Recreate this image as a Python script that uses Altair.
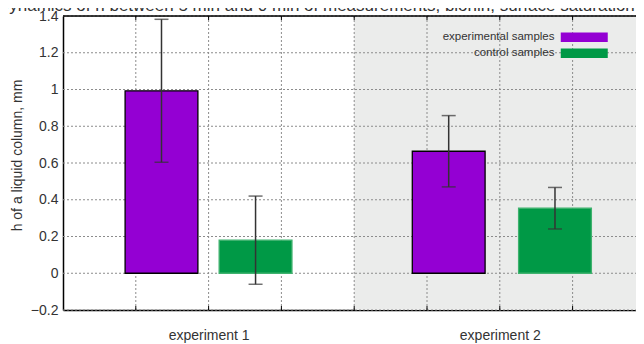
import altair as alt
import pandas as pd

# ---- data ----
experiments = ["experiment 1", "experiment 1", "experiment 2", "experiment 2"]
series = ["experimental samples", "control samples", "experimental samples", "control samples"]
bar_x = [1.353, 2.645, 5.298, 6.758]          # bar centres on the numeric x axis
values = [0.993, 0.18, 0.664, 0.354]
errors = [0.389, 0.24, 0.194, 0.113]

category_labels = ["experiment 1", "experiment 2"]
category_pos = [2, 6]
shade_from = [4]
shade_to = [8]
y_ticks = [-0.2, 0, 0.2, 0.4, 0.6, 0.8, 1, 1.2, 1.4]
x_ticks = [1, 2, 3, 4, 5, 6, 7]

series_names = ["experimental samples", "control samples"]
series_colors = ["#9400D3", "#009946"]
series_strokes = ["#000000", "#3fb26e"]

TITLE = "Dynamics of h between 5 min and 0 min of measurements, bionin, surface saturation"
FONT = "Liberation Sans"

W, H = 573, 294
XMAX = W / 72.8

df = pd.DataFrame({"experiment": experiments, "series": series, "x": bar_x,
                   "value": values, "err": errors})
bg = pd.DataFrame({"x0": shade_from, "x1": shade_to})
yt = pd.DataFrame({"v": y_ticks})
xt = pd.DataFrame({"v": x_ticks})
title_df = pd.DataFrame({"t": [TITLE]})

xscale = alt.Scale(domain=[0, XMAX], nice=False, zero=False)
yscale = alt.Scale(domain=[-0.2, 1.4], nice=False, zero=False)

label_expr = " : ".join(
    [f"datum.value == {p} ? '{l}'" for p, l in zip(category_pos, category_labels)]
) + " : ''"

x_axis = alt.Axis(values=category_pos, labelExpr=label_expr, title=None,
                  grid=False, ticks=False, domainColor="#000000",
                  domainWidth=1.5, labelFontSize=14, labelFont=FONT,
                  labelColor="#333333", labelPadding=18)
y_axis = alt.Axis(values=y_ticks, format="~g", title="h of a liquid column, mm",
                  grid=False, ticks=False, domainColor="#000000",
                  domainWidth=1.5, labelFontSize=14, labelFont=FONT,
                  labelColor="#333333", labelPadding=5,
                  titleFont=FONT, titleFontSize=14, titleFontWeight="normal",
                  titleColor="#333333", titleX=-46, titleY=139,
                  titleAngle=270, titleAlign="center", titleBaseline="middle")

background = alt.Chart(bg).mark_rect(color="#EBECEB", clip=True).encode(
    x=alt.X("x0:Q", scale=xscale, axis=x_axis),
    x2="x1:Q",
    y=alt.value(0),
    y2=alt.value(H),
)

hgrid = alt.Chart(yt).mark_rule(color="#8c8c8c", strokeWidth=1, strokeDash=[2, 2]).encode(
    y=alt.Y("v:Q", scale=yscale, axis=y_axis),
    x=alt.value(0),
    x2=alt.value(W),
)

vgrid = alt.Chart(xt).mark_rule(color="#8c8c8c", strokeWidth=1, strokeDash=[2, 2]).encode(
    x=alt.X("v:Q", scale=xscale, axis=x_axis),
    y=alt.value(0),
    y2=alt.value(H),
)

top_ticks = alt.Chart(xt).mark_rule(color="#000000", strokeWidth=1).encode(
    x=alt.X("v:Q", scale=xscale, axis=x_axis),
    y=alt.value(0),
    y2=alt.value(4),
)
bottom_ticks = alt.Chart(xt).mark_rule(color="#000000", strokeWidth=1).encode(
    x=alt.X("v:Q", scale=xscale, axis=x_axis),
    y=alt.value(H - 4),
    y2=alt.value(H),
)
top_border = alt.Chart(bg).mark_rule(color="#000000", strokeWidth=1.5).encode(
    x=alt.value(0),
    x2=alt.value(W),
    y=alt.value(0),
)

bars = alt.Chart(df).transform_calculate(
    xl="datum.x - 0.5", xr="datum.x + 0.5", base="0"
).mark_rect(strokeWidth=1.3).encode(
    x=alt.X("xl:Q", scale=xscale, axis=x_axis),
    x2="xr:Q",
    y=alt.Y("value:Q", scale=yscale, axis=y_axis),
    y2="base:Q",
    color=alt.Color("series:N",
                    scale=alt.Scale(domain=series_names, range=series_colors),
                    sort=series_names,
                    legend=alt.Legend(orient="none", legendX=480, legendY=15.5,
                                      title=None, padding=0,
                                      symbolType="M2.4,-0.94L11.8,-0.94L11.8,0.94L2.4,0.94Z",
                                      symbolSize=100, symbolStrokeWidth=0,
                                      symbolOpacity=1,
                                      labelAlign="right", labelOffset=0,
                                      labelFontSize=11.5, labelFont=FONT,
                                      labelColor="#333333", rowPadding=3)),
    stroke=alt.Stroke("series:N",
                      scale=alt.Scale(domain=series_names, range=series_strokes),
                      legend=None),
)

err_rules = alt.Chart(df).transform_calculate(
    lo="datum.value - datum.err", hi="datum.value + datum.err"
).mark_rule(color="#333333", strokeWidth=1.5).encode(
    x=alt.X("x:Q", scale=xscale, axis=x_axis),
    y=alt.Y("lo:Q", scale=yscale, axis=y_axis),
    y2="hi:Q",
)

err_caps = alt.Chart(df).transform_fold(["lo", "hi"], as_=["end", "yy"]).transform_calculate(
    yv="datum.end == 'lo' ? datum.value - datum.err : datum.value + datum.err"
).mark_tick(color="#333333", orient="horizontal", size=14, thickness=1.5).encode(
    x=alt.X("x:Q", scale=xscale, axis=x_axis),
    y=alt.Y("yv:Q", scale=yscale, axis=y_axis),
)

title_text = alt.Chart(title_df).mark_text(
    align="left", baseline="alphabetic", fontSize=17, font=FONT, color="#333333"
).encode(
    text="t:N",
    x=alt.value(-66),
    y=alt.value(-5),
)

chart = alt.layer(
    background, hgrid, vgrid, bars, err_rules, err_caps, top_border, top_ticks,
    bottom_ticks, title_text
).properties(
    width=W,
    height=H,
    autosize=alt.AutoSizeParams(type="none"),
    padding={"left": 55, "top": 8, "right": 0, "bottom": 34},
).configure_view(stroke=None).configure(background="white")

chart.save("out.html", embed_options={"renderer": "svg", "actions": False})
